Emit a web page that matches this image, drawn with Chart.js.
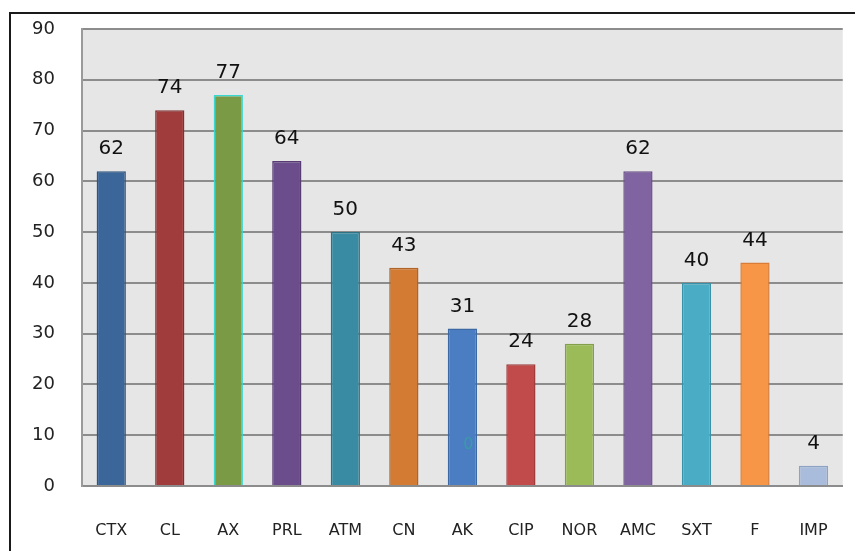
<!DOCTYPE html>
<html>
<head>
<meta charset="utf-8">
<script src="https://cdn.jsdelivr.net/npm/chart.js@4/dist/chart.umd.min.js"></script>
<style>
  html, body { margin: 0; padding: 0; background: #ffffff; }
  #wrap { width: 855px; height: 551px; position: relative; }
</style>
</head>
<body>
<div id="wrap"><canvas id="c" width="855" height="551"></canvas></div>
<script>
// Antibiotic panel: count per agent
const categories = ['CTX', 'CL', 'AX', 'PRL', 'ATM', 'CN', 'AK', 'CIP', 'NOR', 'AMC', 'SXT', 'F', 'IMP'];
const values = [62, 74, 77, 64, 50, 43, 31, 24, 28, 62, 40, 44, 4];
const yTicks = [0, 10, 20, 30, 40, 50, 60, 70, 80, 90];

const fillColors = ['#3b6699', '#a03c3c', '#7b9a46', '#6a4d8a', '#388ba2', '#d37a33', '#4a7dc1', '#c04b4a', '#9bbb59', '#8064a2', '#4aacc5', '#f79646', '#a9bcdb'];
const edgeColors = ['#2e5580', '#843030', '#3ad6d0', '#563c72', '#2c7388', '#b06428', '#3c68a3', '#a03c3c', '#82a048', '#6a5088', '#3a92a8', '#d87c38', '#8ea3c4'];

const FONT = '"DejaVu Sans", Verdana, sans-serif';

// Outer frame, plot background and value labels
const decor = {
  id: 'decor',
  beforeDraw(chart) {
    const { ctx, chartArea: a } = chart;
    ctx.save();
    ctx.fillStyle = '#e6e6e6';
    ctx.fillRect(a.left, a.top, a.right - a.left, a.bottom - a.top);
    ctx.strokeStyle = '#1a1a1a';
    ctx.lineWidth = 2;
    ctx.beginPath();
    ctx.moveTo(10, 560);
    ctx.lineTo(10, 13);
    ctx.lineTo(860, 13);
    ctx.stroke();
    ctx.restore();
  },
  afterDatasetsDraw(chart) {
    const { ctx } = chart;
    const meta = chart.getDatasetMeta(0);
    ctx.save();
    ctx.font = '20px ' + FONT;
    ctx.fillStyle = '#111111';
    ctx.textAlign = 'center';
    ctx.textBaseline = 'alphabetic';
    meta.data.forEach((bar, i) => {
      ctx.fillText(String(values[i]), bar.x, bar.y - 17);
    });
    // faint stray "0" inside the AK bar
    const ak = meta.data[categories.indexOf('AK')];
    const ys = chart.scales.y;
    ctx.font = '16px ' + FONT;
    ctx.fillStyle = '#3a9aa8';
    ctx.textBaseline = 'middle';
    ctx.fillText('0', ak.x + 6, ys.getPixelForValue(8.2));
    ctx.restore();
  }
};

new Chart(document.getElementById('c'), {
  type: 'bar',
  data: {
    labels: categories,
    datasets: [{
      data: values,
      backgroundColor: fillColors,
      borderColor: edgeColors,
      borderWidth: 1.5,
      barPercentage: 0.5,
      categoryPercentage: 1.0
    }]
  },
  plugins: [decor],
  options: {
    responsive: false,
    animation: false,
    layout: { padding: { left: 0, top: 29, right: 11, bottom: 0 } },
    plugins: { legend: { display: false }, tooltip: { enabled: false } },
    scales: {
      x: {
        grid: { display: false },
        border: { display: true, color: '#8c8c8c', width: 2 },
        ticks: { color: '#222222', font: { family: FONT, size: 16 }, padding: 27, maxRotation: 0, autoSkip: false },
        afterFit(s) { s.height = 65; }
      },
      y: {
        min: 0, max: 90,
        afterBuildTicks(s) { s.ticks = yTicks.map(v => ({ value: v })); },
        grid: { color: '#8c8c8c', lineWidth: 2, drawTicks: false },
        border: { display: true, color: '#9a9a9a', width: 2 },
        ticks: { color: '#222222', font: { family: FONT, size: 18 }, padding: 27 },
        afterFit(s) { s.width = 82; s.paddingTop = 0; s.paddingBottom = 0; }
      }
    }
  }
});
</script>
</body>
</html>
